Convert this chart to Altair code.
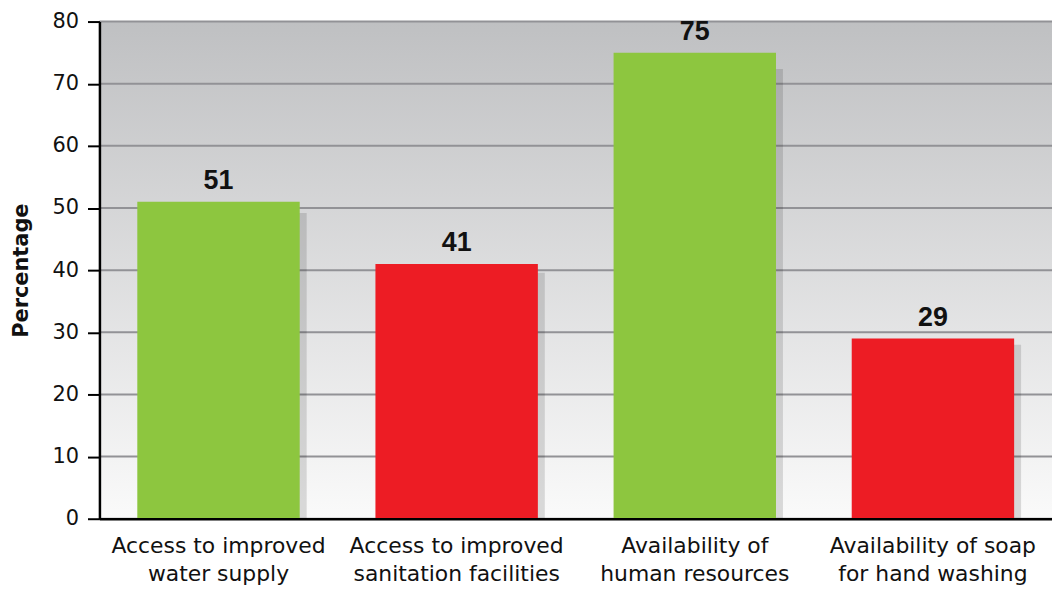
import altair as alt
import pandas as pd

# Survey indicators and their percentages
categories = [
    "Access to improved|water supply",
    "Access to improved|sanitation facilities",
    "Availability of|human resources",
    "Availability of soap|for hand washing",
]
values = [51, 41, 75, 29]
bar_colors = ["#8dc63f", "#ed1c24", "#8dc63f", "#ed1c24"]
grid_values = [0, 10, 20, 30, 40, 50, 60, 70, 80]

W, H = 958, 500

bars_df = pd.DataFrame({"category": categories, "value": values, "color": bar_colors})
grid_df = pd.DataFrame({"y": grid_values})
bg_df = pd.DataFrame({"k": [0]})

x_enc = alt.X(
    "category:N",
    sort=categories,
    scale=alt.Scale(paddingInner=0.318, paddingOuter=0.159),
    axis=alt.Axis(
        title=None,
        labelExpr="split(datum.label, '|')",
        labelAngle=0,
        labelLimit=0,
        labelFont="DejaVu Sans",
        labelFontSize=22,
        labelColor="#111111",
        labelLineHeight=28,
        labelPadding=17,
        ticks=False,
        domainColor="#000000",
        domainWidth=2.5,
        zindex=1,
    ),
)
y_scale = alt.Scale(domain=[0, 80], nice=False)
y_axis = alt.Axis(
    title="Percentage",
    titleFont="DejaVu Sans",
    titleFontSize=21,
    titleFontWeight="bold",
    titleColor="#111111",
    titleX=-78,
    titleY=H / 2,
    titleAngle=-90,
    titleAlign="center",
    titleBaseline="middle",
    values=grid_values,
    labelFont="DejaVu Sans",
    labelFontSize=21,
    labelColor="#111111",
    labelPadding=9,
    tickSize=12,
    tickWidth=2,
    tickColor="#000000",
    domainColor="#000000",
    domainWidth=2.5,
    grid=False,
    zindex=1,
)

# Plot background: grey at the top fading to near white at the baseline
background = alt.Chart(bg_df).mark_rect(
    fill=alt.LinearGradient(
        gradient="linear",
        stops=[
            alt.GradientStop(color="#bfc0c2", offset=0),
            alt.GradientStop(color="#fafafa", offset=1),
        ],
        x1=0, x2=0, y1=0, y2=1,
    )
).encode(x=alt.value(0), x2=alt.value(W), y=alt.value(0), y2=alt.value(H))

grid = alt.Chart(grid_df).mark_rule(color="#929296", strokeWidth=2).encode(
    y=alt.Y("y:Q", scale=y_scale, axis=y_axis)
)

# Soft drop shadow to the right of each bar
shadow = alt.Chart(bars_df).transform_calculate(
    shade="datum.value * 0.965"
).mark_bar(color="#000000", opacity=0.13, xOffset=7).encode(
    x=x_enc,
    y=alt.Y("shade:Q", scale=y_scale, axis=y_axis),
)

bars = alt.Chart(bars_df).mark_bar().encode(
    x=x_enc,
    y=alt.Y("value:Q", scale=y_scale, axis=y_axis),
    color=alt.Color("color:N", scale=None, legend=None),
)

labels = alt.Chart(bars_df).mark_text(
    font="Liberation Sans",
    fontSize=27,
    fontWeight="bold",
    color="#111111",
    baseline="alphabetic",
    dy=-13,
).encode(
    x=x_enc,
    y=alt.Y("value:Q", scale=y_scale, axis=y_axis),
    text=alt.Text("value:Q"),
)

chart = (
    alt.layer(background, grid, shadow, bars, labels)
    .properties(
        width=W,
        height=H,
        padding={"left": 100, "top": 20, "right": 0, "bottom": 72},
        autosize=alt.AutoSizeParams(type="none"),
        background="#ffffff",
    )
    .configure_view(stroke=None)
)

chart.save("out.html", embed_options={"renderer": "svg", "actions": False})
